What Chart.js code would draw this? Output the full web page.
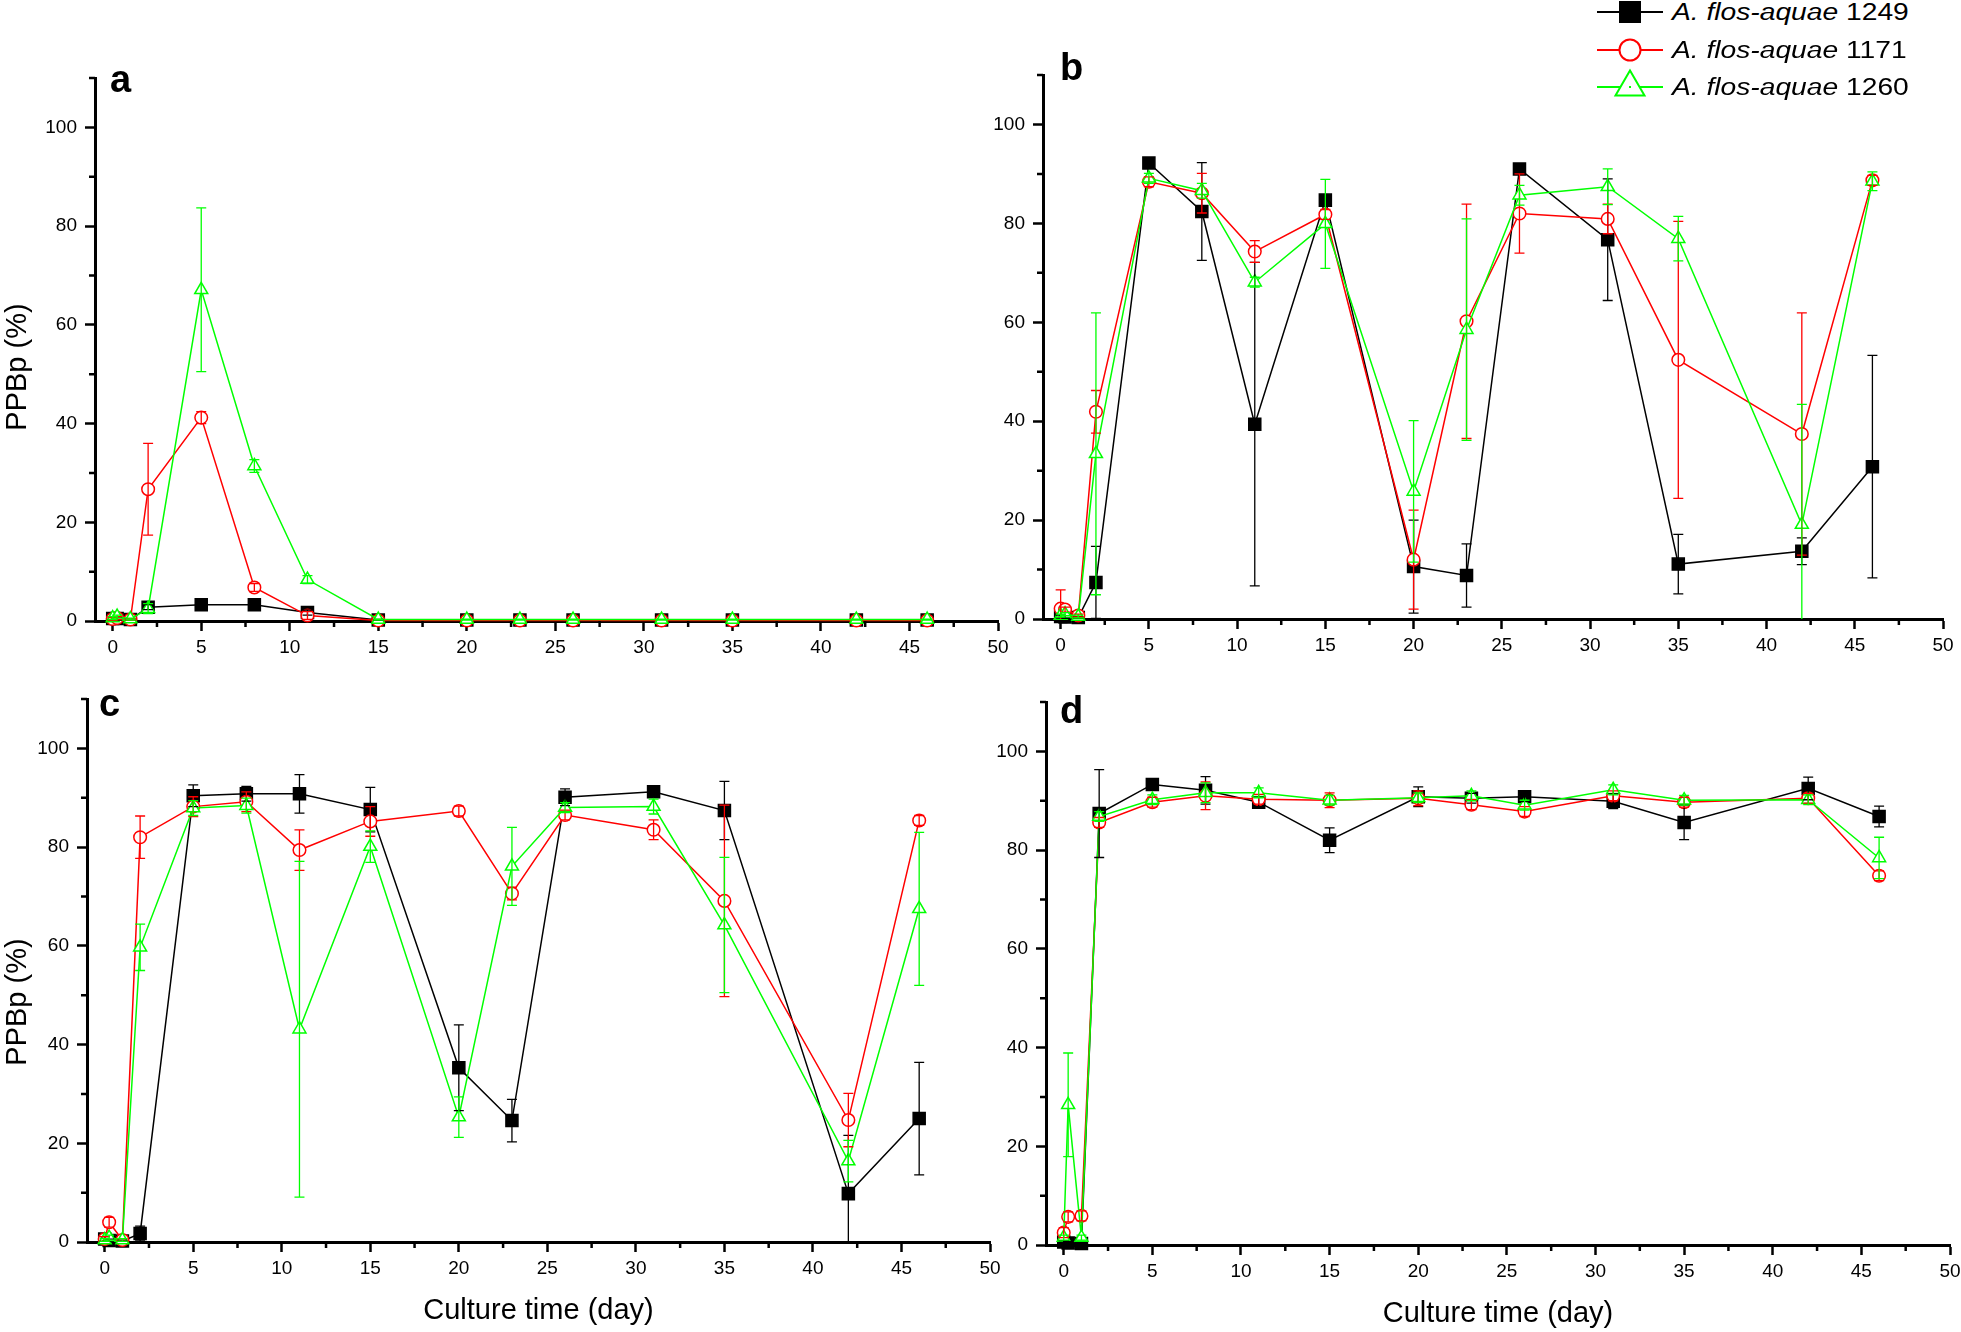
<!DOCTYPE html>
<html>
<head>
<meta charset="utf-8">
<script src="https://cdn.jsdelivr.net/npm/chart.js@4.4.1/dist/chart.umd.min.js"></script>
<style>
  html, body { margin: 0; padding: 0; background: #fff; }
  #fig { position: relative; width: 1961px; height: 1332px; background: #fff; overflow: hidden; }
  #fig canvas { position: absolute; }
  #legend { position: absolute; left: 1597px; top: 0; z-index: 5; font-family: 'Liberation Sans', Arial, sans-serif; }
  #legend .row { position: absolute; left: 0; height: 40px; width: 360px; white-space: nowrap; }
  #legend svg { position: absolute; left: 0; top: 0; }
  #legend .txt { position: absolute; left: 75px; top: 0; line-height: 40px; font-size: 23.5px; color: #000;
                 transform: scaleX(1.2); transform-origin: left center; }
</style>
</head>
<body>
<div id="fig">
  <div id="legend">
    <div class="row" style="top:-8px">
      <svg width="66" height="40"><line x1="0" y1="20" x2="66" y2="20" stroke="#000" stroke-width="2"/>
        <rect x="22" y="9" width="22" height="22" fill="#000"/></svg>
      <span class="txt"><i>A. flos-aquae</i> 1249</span>
    </div>
    <div class="row" style="top:29.5px">
      <svg width="66" height="40"><line x1="0" y1="20" x2="66" y2="20" stroke="#f00" stroke-width="2"/>
        <circle cx="33" cy="20" r="10.5" fill="#fff" stroke="#f00" stroke-width="2"/></svg>
      <span class="txt"><i>A. flos-aquae</i> 1171</span>
    </div>
    <div class="row" style="top:67px">
      <svg width="66" height="40"><line x1="0" y1="20" x2="66" y2="20" stroke="#0f0" stroke-width="2"/>
        <polygon points="33,3.5 47.5,28.5 18.5,28.5" fill="#fff" stroke="#0f0" stroke-width="2"/>
        <rect x="32" y="19" width="2" height="2" fill="#0f0"/></svg>
      <span class="txt"><i>A. flos-aquae</i> 1260</span>
    </div>
  </div>
</div>
<script>
// culture days (x) shared by every panel
const days = [0, 0.25, 1, 2, 5, 8, 11, 15, 20, 23, 26, 31, 35, 42, 46];
const xTicks = [0, 5, 10, 15, 20, 25, 30, 35, 40, 45, 50];
const xMinor = [2.5, 7.5, 12.5, 17.5, 22.5, 27.5, 32.5, 37.5, 42.5, 47.5];
const yTicks = [0, 20, 40, 60, 80, 100];
const yMinor = [10, 30, 50, 70, 90, 110];
const strains = ['A. flos-aquae 1249', 'A. flos-aquae 1171', 'A. flos-aquae 1260'];

// panel a
const a1249 = [0.5, 0.5, 0.3, 2.8, 3.3, 3.3, 1.7, 0.2, 0.2, 0.2, 0.2, 0.2, 0.2, 0.2, 0.2];
const a1249Err = [0.3, 0.3, 0.2, 0.5, 0.5, 0.5, 0.5, 0.1, 0, 0, 0, 0, 0, 0, 0];
const a1171 = [0.4, 0.6, 0.3, 26.7, 41.2, 6.8, 1.1, 0.1, 0.1, 0.1, 0.1, 0.1, 0.1, 0.1, 0.1];
const a1171Err = [0.3, 0.3, 0.2, 9.3, 1.2, 0.8, 0.8, 0, 0, 0, 0, 0, 0, 0, 0];
const a1260 = [0.6, 0.9, 0.4, 2.5, 67.1, 31.4, 8.4, 0.3, 0.3, 0.3, 0.3, 0.3, 0.3, 0.3, 0.3];
const a1260Err = [0.3, 0.3, 0.2, 1.0, 16.6, 1.3, 0.8, 0.1, 0.1, 0.1, 0.1, 0.1, 0.1, 0.1, 0.1];

// panel b
const b1249 = [0.5, 0.4, 0.3, 7.4, 92.2, 82.4, 39.4, 84.7, 10.6, 8.8, 91.0, 76.7, 11.1, 13.7, 30.8];
const b1249Err = [0.3, 0.3, 0.2, 7.3, 0.8, 9.9, 32.7, 1.0, 9.4, 6.4, 1.0, 12.3, 6.0, 2.7, 22.5];
const b1171 = [2.1, 1.9, 0.7, 41.9, 88.4, 86.1, 74.3, 81.8, 12.0, 60.2, 82.0, 80.9, 52.4, 37.4, 88.7];
const b1171Err = [3.8, 0.5, 0.3, 4.3, 1.0, 4.0, 2.2, 1.0, 10.0, 23.7, 8.0, 3.0, 28.0, 24.5, 1.0];
const b1260 = [0.7, 1.0, 0.5, 33.4, 89.1, 86.6, 68.1, 79.9, 25.8, 58.5, 85.7, 87.4, 76.9, 19.1, 88.5];
const b1260Err = [0.3, 0.3, 0.3, 28.5, 1.0, 1.5, 1.0, 9.0, 14.3, 22.4, 2.0, 3.6, 4.5, 24.3, 1.9];

// panel c
const c1249 = [0.6, 0.3, 0.2, 1.7, 90.4, 90.8, 90.8, 87.6, 35.3, 24.6, 90.1, 91.2, 87.4, 9.8, 25.0];
const c1249Err = [0.5, 0.3, 0.2, 1.5, 2.2, 1.5, 3.9, 4.5, 8.7, 4.3, 1.7, 1.0, 5.9, 11.8, 11.4];
const c1171 = [0.6, 4.0, 0.4, 82.0, 88.2, 89.2, 79.4, 85.2, 87.3, 70.6, 86.5, 83.5, 69.1, 24.7, 85.4];
const c1171Err = [0.5, 1.0, 0.3, 4.3, 2.0, 2.0, 4.1, 3.0, 1.0, 1.3, 1.0, 2.0, 19.4, 5.4, 1.0];
const c1260 = [0.4, 0.9, 0.4, 59.7, 87.9, 88.4, 43.1, 80.1, 25.3, 76.1, 88.0, 88.2, 64.2, 16.4, 67.5];
const c1260Err = [0.3, 0.5, 0.3, 4.7, 1.5, 1.5, 34.0, 3.2, 4.1, 7.9, 1.0, 1.5, 13.7, 4.2, 15.5];

// panel d
const d1249 = [0.6, 0.4, 0.3, 87.4, 93.3, 92.1, 89.7, 82.0, 90.8, 90.5, 90.8, 89.9, 85.6, 92.5, 86.8];
const d1249Err = [0.3, 0.3, 0.2, 8.9, 1.0, 2.8, 1.0, 2.5, 2.0, 1.0, 1.0, 1.5, 3.5, 2.3, 2.1];
const d1171 = [2.5, 5.7, 5.9, 85.6, 89.7, 91.0, 90.3, 90.1, 90.5, 89.2, 87.8, 91.0, 89.7, 90.5, 74.8];
const d1171Err = [1.0, 1.0, 1.0, 1.0, 1.0, 2.8, 1.0, 1.5, 1.5, 1.0, 1.0, 1.0, 1.0, 1.0, 1.0];
const d1260 = [1.5, 28.4, 1.5, 86.8, 90.2, 91.6, 91.6, 90.1, 90.6, 91.0, 89.1, 92.2, 90.1, 90.2, 78.4];
const d1260Err = [0.5, 10.5, 0.5, 1.0, 1.0, 2.0, 1.0, 1.0, 1.0, 1.0, 1.0, 1.0, 1.0, 1.0, 4.2];

const FONT = "'Liberation Sans', Arial, sans-serif";
Chart.defaults.font.family = FONT;
Chart.defaults.color = '#000';

const YW = 95, PT = 30, PR = 22;

// vertical error bars, drawn over the markers like the original
const errorBars = {
    id: 'errorBars',
    afterDatasetsDraw(chart) {
        const { ctx, chartArea, scales: { x, y } } = chart;
        ctx.save();
        ctx.beginPath();
        ctx.rect(chartArea.left, chartArea.top - 10, chartArea.width, chartArea.height + 10);
        ctx.clip();
        chart.data.datasets.forEach(ds => {
            ctx.strokeStyle = ds.borderColor;
            ctx.lineWidth = 1.3;
            ds.data.forEach((p, i) => {
                const e = ds.errors[i];
                if (!e) return;
                const px = x.getPixelForValue(p.x);
                const hi = y.getPixelForValue(p.y + e);
                const lo = y.getPixelForValue(p.y - e);
                ctx.beginPath();
                ctx.moveTo(px, hi); ctx.lineTo(px, lo);
                ctx.moveTo(px - 5, hi); ctx.lineTo(px + 5, hi);
                ctx.moveTo(px - 5, lo); ctx.lineTo(px + 5, lo);
                ctx.stroke();
            });
        });
        ctx.restore();
    }
};

// minor ticks, panel letter and the y title
const panelDeco = {
    id: 'panelDeco',
    afterDraw(chart, args, opts) {
        const { ctx, chartArea, scales: { x, y } } = chart;
        ctx.save();
        ctx.strokeStyle = '#000';
        ctx.lineWidth = 2.5;
        ctx.beginPath();
        xMinor.forEach(v => {
            const px = x.getPixelForValue(v);
            ctx.moveTo(px, chartArea.bottom); ctx.lineTo(px, chartArea.bottom + 6);
        });
        yMinor.forEach(v => {
            const py = y.getPixelForValue(v);
            ctx.moveTo(chartArea.left - 6, py); ctx.lineTo(chartArea.left, py);
        });
        ctx.stroke();

        ctx.fillStyle = '#000';
        ctx.font = 'bold 38px ' + FONT;
        ctx.textBaseline = 'alphabetic';
        ctx.textAlign = 'left';
        ctx.fillText(opts.letter, opts.letterX - opts.ox, opts.letterY - opts.oy);

        if (opts.yTitle) {
            ctx.translate(opts.titleX - opts.ox, opts.titleY - opts.oy);
            ctx.rotate(-Math.PI / 2);
            ctx.font = '29px ' + FONT;
            ctx.textAlign = 'center';
            ctx.textBaseline = 'middle';
            ctx.fillText(opts.yTitle, 0, 0);
        }
        ctx.restore();
    }
};

function series(label, values, errs, color, style, radius, fill, order) {
    return {
        label: label,
        data: days.map((d, i) => ({ x: d, y: values[i] })),
        errors: errs,
        borderColor: color,
        borderWidth: 1.5,
        pointStyle: style,
        pointRadius: radius,
        pointBorderWidth: 1.5,
        pointBorderColor: color,
        pointBackgroundColor: fill,
        tension: 0,
        clip: false,
        order: order
    };
}

function makePanel(p) {
    const ox = p.L - YW, oy = p.T - PT;
    const w = YW + (p.R - p.L) + PR;
    const h = PT + (p.B - p.T) + p.XH;
    const canvas = document.createElement('canvas');
    canvas.width = w; canvas.height = h;
    canvas.style.left = ox + 'px'; canvas.style.top = oy + 'px';
    canvas.style.width = w + 'px'; canvas.style.height = h + 'px';
    document.getElementById('fig').appendChild(canvas);

    new Chart(canvas.getContext('2d'), {
        type: 'line',
        data: {
            datasets: [
                series(strains[0], p.s1249, p.e1249, '#000000', 'rect', 8.5, '#000000', 3),
                series(strains[1], p.s1171, p.e1171, '#ff0000', 'circle', 6.3, '#ffffff', 2),
                series(strains[2], p.s1260, p.e1260, '#00ff00', 'triangle', 7.5, '#ffffff', 1)
            ]
        },
        options: {
            responsive: false,
            animation: false,
            devicePixelRatio: 1,
            layout: { padding: { top: PT, right: PR, left: 0, bottom: 0 } },
            plugins: {
                legend: { display: false },
                tooltip: { enabled: false },
                panelDeco: {
                    letter: p.letter, letterX: p.letterX, letterY: p.letterY,
                    yTitle: p.yTitle, titleX: p.titleX, titleY: p.titleY, ox: ox, oy: oy
                }
            },
            scales: {
                x: {
                    type: 'linear',
                    min: -1, max: 50,
                    afterBuildTicks: s => { s.ticks = xTicks.map(v => ({ value: v })); },
                    afterFit: s => { s.height = p.XH; },
                    ticks: { font: { size: 19 }, padding: 5, maxRotation: 0, autoSkip: false },
                    grid: { drawOnChartArea: false, drawTicks: true, tickLength: 10, tickWidth: 2.5, tickColor: '#000', color: '#000' },
                    border: { display: true, color: '#000', width: 3 },
                    title: { display: !!p.xTitle, text: p.xTitle || '', font: { size: 29 }, padding: 0 }
                },
                y: {
                    type: 'linear',
                    min: 0, max: 110,
                    afterBuildTicks: s => { s.ticks = yTicks.map(v => ({ value: v })); },
                    afterFit: s => { s.width = YW; },
                    ticks: { font: { size: 19 }, padding: 8, autoSkip: false },
                    grid: { drawOnChartArea: false, drawTicks: true, tickLength: 10, tickWidth: 2.5, tickColor: '#000', color: '#000' },
                    border: { display: true, color: '#000', width: 3 }
                }
            }
        },
        plugins: [errorBars, panelDeco]
    });
}

makePanel({ L: 95, T: 78, R: 998, B: 621, XH: 45, letter: 'a', letterX: 110, letterY: 91.5,
    yTitle: 'PPBp (%)', titleX: 17.5, titleY: 367,
    s1249: a1249, e1249: a1249Err, s1171: a1171, e1171: a1171Err, s1260: a1260, e1260: a1260Err });
makePanel({ L: 1043, T: 75, R: 1943, B: 619, XH: 45, letter: 'b', letterX: 1060, letterY: 80,
    s1249: b1249, e1249: b1249Err, s1171: b1171, e1171: b1171Err, s1260: b1260, e1260: b1260Err });
makePanel({ L: 87, T: 699, R: 990, B: 1242, XH: 86, letter: 'c', letterX: 99, letterY: 715.5,
    yTitle: 'PPBp (%)', titleX: 17.5, titleY: 1002, xTitle: 'Culture time (day)',
    s1249: c1249, e1249: c1249Err, s1171: c1171, e1171: c1171Err, s1260: c1260, e1260: c1260Err });
makePanel({ L: 1046, T: 702, R: 1950, B: 1245, XH: 86, letter: 'd', letterX: 1060, letterY: 723,
    xTitle: 'Culture time (day)',
    s1249: d1249, e1249: d1249Err, s1171: d1171, e1171: d1171Err, s1260: d1260, e1260: d1260Err });
</script>
</body>
</html>
